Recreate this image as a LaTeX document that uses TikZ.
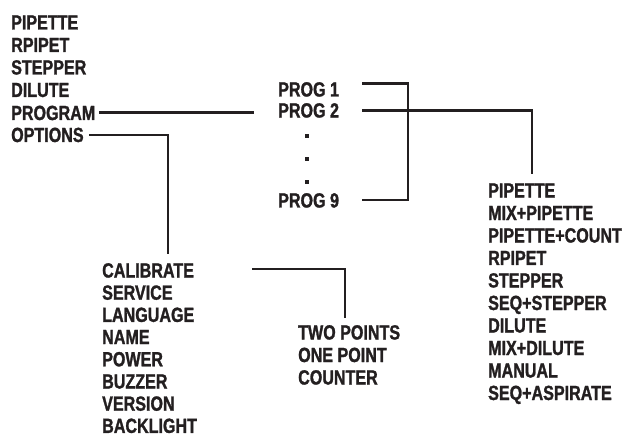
\documentclass[tikz,border=0pt]{standalone}
\usepackage{fontspec}
\newfontfamily\condbf{Liberation Sans Bold}[FakeStretch=0.785,FakeBold=1.3]
\definecolor{ink}{HTML}{231F20}
\begin{document}
\begin{tikzpicture}[x=1pt,y=-1pt,
  lbl/.style={anchor=west,inner sep=0pt,text height=15pt,text depth=0pt,
    font=\condbf\fontsize{20.5}{22}\selectfont,text=ink},
  wire/.style={draw=ink,line width=2.2pt,line cap=rect},
  dot/.style={fill=ink,inner sep=0pt,minimum size=3.8pt}]
\useasboundingbox (0,0) rectangle (625,436);
% main menu
\node[lbl] (m1) at (11,22) {PIPETTE};
\node[lbl] (m2) at (11,44.5) {RPIPET};
\node[lbl] (m3) at (11,67) {STEPPER};
\node[lbl] (m4) at (11,89.5) {DILUTE};
\node[lbl] (program) at (11,112.5) {PROGRAM};
\node[lbl] (options) at (11,134.5) {OPTIONS};
% program slots
\node[lbl] (prog1) at (278,89) {PROG 1};
\node[lbl] (prog2) at (278,110) {PROG 2};
\node[dot] (d1) at (307,136) {};
\node[dot] (d2) at (307,159) {};
\node[dot] (d3) at (307,182) {};
\node[lbl] (prog9) at (278,200) {PROG 9};
% modes
\node[lbl] (r1) at (488,190) {PIPETTE};
\node[lbl] (r2) at (488,212.5) {MIX+PIPETTE};
\node[lbl] (r3) at (488,235) {PIPETTE+COUNT};
\node[lbl] (r4) at (488,257.5) {RPIPET};
\node[lbl] (r5) at (488,280) {STEPPER};
\node[lbl] (r6) at (488,302.5) {SEQ+STEPPER};
\node[lbl] (r7) at (488,325) {DILUTE};
\node[lbl] (r8) at (488,347.5) {MIX+DILUTE};
\node[lbl] (r9) at (488,370) {MANUAL};
\node[lbl] (r10) at (488,392.5) {SEQ+ASPIRATE};
% options
\node[lbl] (calibrate) at (102,270) {CALIBRATE};
\node[lbl] (o2) at (102,292.2) {SERVICE};
\node[lbl] (o3) at (102,314.4) {LANGUAGE};
\node[lbl] (o4) at (102,336.6) {NAME};
\node[lbl] (o5) at (102,358.8) {POWER};
\node[lbl] (o6) at (102,381) {BUZZER};
\node[lbl] (o7) at (102,403.2) {VERSION};
\node[lbl] (o8) at (102,425.4) {BACKLIGHT};
% calibration
\node[lbl] (two) at (298,332) {TWO POINTS};
\node[lbl] (c2) at (298,354.5) {ONE POINT};
\node[lbl] (c3) at (298,377) {COUNTER};
% connector end points
\coordinate (pa) at (100,112.5);
\coordinate (pb) at (253,112.5);
\coordinate (oa) at (90,135);
\coordinate (ob) at (168,135);
\coordinate (oc) at (168,253);
\coordinate (b1) at (363,83.5);
\coordinate (b2) at (408,83.5);
\coordinate (b3) at (408,200);
\coordinate (b4) at (363,200);
\coordinate (q1) at (363,110.5);
\coordinate (q2) at (532,110.5);
\coordinate (q3) at (532,173);
\coordinate (k1) at (253,269);
\coordinate (k2) at (345,269);
\coordinate (k3) at (345,317);
% connectors
\draw[wire] (pa) -- (pb);
\draw[wire] (oa) -- (ob) -- (oc);
\draw[wire] (b1) -- (b2) -- (b3) -- (b4);
\draw[wire] (q1) -- (q2) -- (q3);
\draw[wire] (k1) -- (k2) -- (k3);
\end{tikzpicture}
\end{document}
